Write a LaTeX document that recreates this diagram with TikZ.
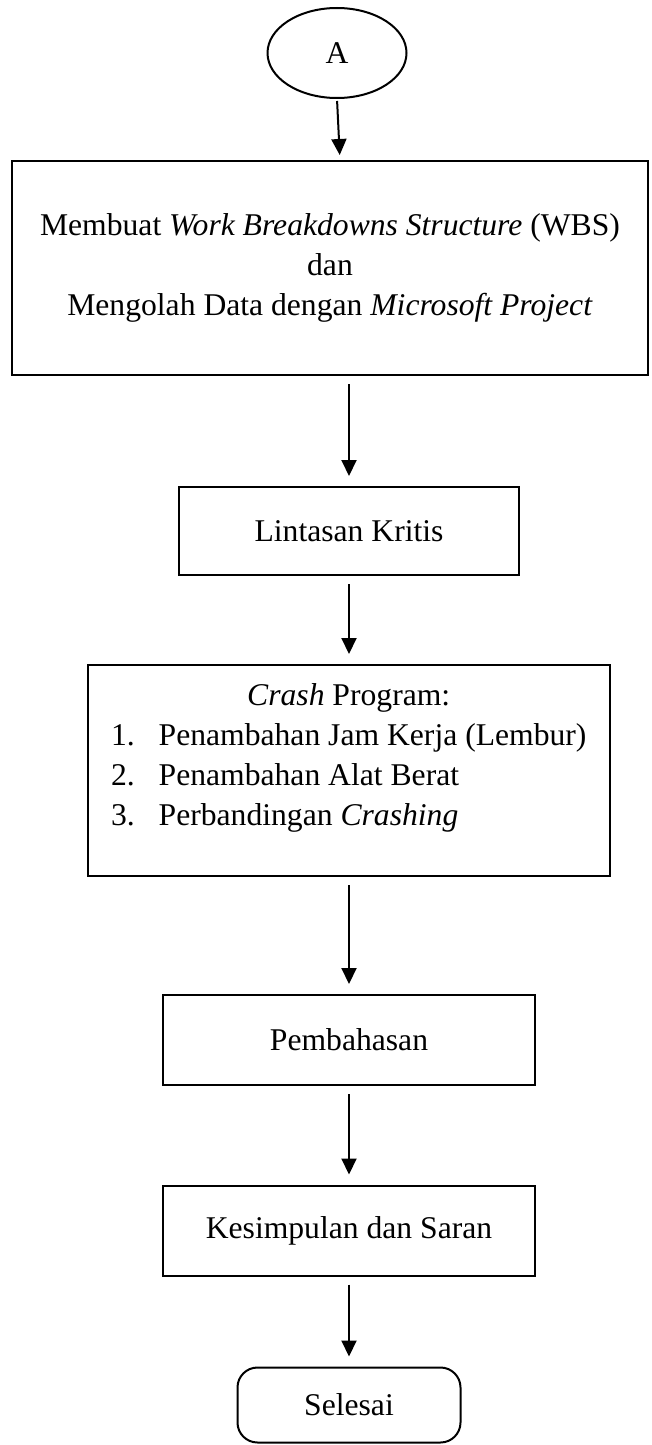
\documentclass[tikz,border=0pt]{standalone}
\usepackage{fontspec}
\setmainfont{Liberation Serif}
\usetikzlibrary{arrows.meta, shapes.geometric}

\begin{document}
\begin{tikzpicture}[>={Triangle[length=0.32cm, width=0.3cm]}, line width=0.04cm,
    every node/.style={font=\fontsize{18}{22.8}\selectfont},
    box/.style={draw, rectangle, align=center, inner sep=0pt},
    arr/.style={->, shorten <=0.16cm, shorten >=0.2cm}]

    \useasboundingbox (0,0) rectangle (13.02,-28.9);

    \node[draw, ellipse, minimum width=2.78cm, minimum height=1.8cm] (A) at (6.74,-1.06) {A};

    \node[box, minimum width=12.72cm, minimum height=4.28cm] (B1) at (6.6,-5.36)
        {Membuat \textit{Work Breakdowns Structure} (WBS)\\ dan\\ Mengolah Data dengan \textit{Microsoft Project}};

    \node[box, minimum width=6.8cm, minimum height=1.76cm] (B2) at (6.98,-10.62) {Lintasan Kritis};

    \node[box, minimum width=10.44cm, minimum height=4.22cm] (B3) at (6.98,-15.41) {};
    \node[anchor=base west, inner sep=0pt] (B3t) at (2.2,-14.1) {\begin{tabular}[t]{@{}l@{\hspace{0.48cm}}l@{}}
        \multicolumn{2}{c}{\textit{Crash} Program:\hspace{0.32cm}}\\
        1. & Penambahan Jam Kerja (Lembur)\\
        2. & Penambahan Alat Berat\\
        3. & Perbandingan \textit{Crashing}
    \end{tabular}};

    \node[box, minimum width=7.44cm, minimum height=1.8cm] (B4) at (6.98,-20.8) {Pembahasan};
    \node[box, minimum width=7.44cm, minimum height=1.8cm] (B5) at (6.98,-24.61) {Kesimpulan dan Saran};

    \node[box, rounded corners=0.4cm, minimum width=4.46cm, minimum height=1.5cm] (End) at (6.98,-28.1) {Selesai};

    \coordinate (a1) at (6.8,-3.22);

    \draw[->, shorten <=0.04cm, shorten >=0.12cm] (A.south) -- (a1);
    \draw[arr] (B1.south -| B2.north) -- (B2.north);
    \draw[arr] (B2) -- (B3);
    \draw[arr] (B3) -- (B4);
    \draw[arr] (B4) -- (B5);
    \draw[arr] (B5) -- (End);

\end{tikzpicture}
\end{document}
